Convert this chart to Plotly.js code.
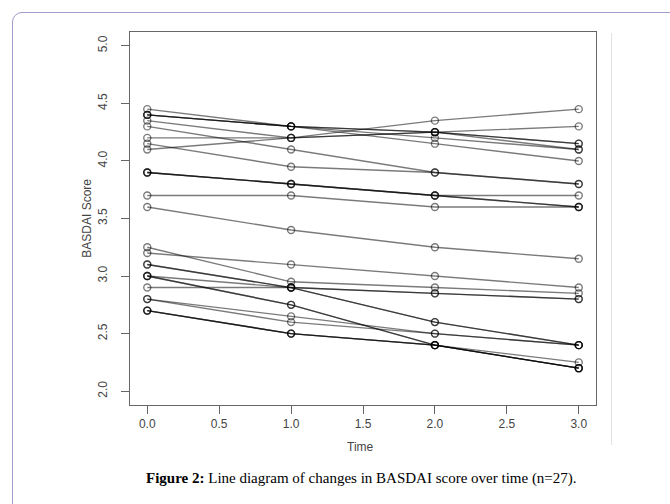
<!DOCTYPE html>
<html>
<head>
<meta charset="utf-8">
<script src="https://cdn.plot.ly/plotly-3.0.1.min.js"></script>
<style>
  html, body { margin: 0; padding: 0; background: #ffffff; width: 670px; height: 504px; overflow: hidden; }
  #frame { position: absolute; left: 12px; top: 12px; width: 720px; height: 540px; border: 1.5px solid #9c9cc6; border-radius: 10px; box-sizing: border-box; }
  #edge { position: absolute; left: 611px; top: 33px; width: 1px; height: 412px; background: #e2e2e2; }
  #chart { position: absolute; left: 0; top: 0; width: 670px; height: 504px; }
</style>
</head>
<body>
<div id="frame"></div>
<div id="edge"></div>
<div id="chart"></div>
<script>
// Time points
const time = [0, 1, 2, 3];
const xTicks = [0, 0.5, 1, 1.5, 2, 2.5, 3];
const xTickText = ["0.0", "0.5", "1.0", "1.5", "2.0", "2.5", "3.0"];
const yTicks = [2, 2.5, 3, 3.5, 4, 4.5, 5];
const yTickText = ["2.0", "2.5", "3.0", "3.5", "4.0", "4.5", "5.0"];

// BASDAI score per patient at each time point
const s01 = [4.45, 4.30, 4.20, 4.10];
const s02 = [4.40, 4.30, 4.15, 4.00];
const s03 = [4.40, 4.30, 4.25, 4.15];
const s04 = [4.35, 4.20, 4.25, 4.30];
const s05 = [4.30, 4.10, 3.90, 3.80];
const s06 = [4.20, 4.20, 4.25, 4.10];
const s07 = [4.15, 3.95, 3.90, 3.80];
const s08 = [4.10, 4.20, 4.35, 4.45];
const s09 = [3.90, 3.80, 3.70, 3.70];
const s10 = [3.90, 3.80, 3.70, 3.60];
const s11 = [3.70, 3.70, 3.60, 3.60];
const s12 = [3.60, 3.40, 3.25, 3.15];
const s13 = [3.25, 2.95, 2.90, 2.85];
const s14 = [3.20, 3.10, 3.00, 2.90];
const s15 = [3.10, 2.90, 2.60, 2.40];
const s16 = [3.10, 2.90, 2.85, 2.80];
const s17 = [3.00, 2.75, 2.40, 2.20];
const s18 = [3.00, 2.90, 2.60, 2.40];
const s19 = [2.90, 2.90, 2.85, 2.80];
const s20 = [2.80, 2.65, 2.50, 2.40];
const s21 = [2.80, 2.60, 2.50, 2.40];
const s22 = [2.70, 2.50, 2.40, 2.25];
const s23 = [2.70, 2.50, 2.40, 2.20];
const s24 = [3.90, 3.80, 3.70, 3.60];
const s25 = [2.70, 2.50, 2.40, 2.20];
const s26 = [4.40, 4.30, 4.25, 4.15];
const s27 = [3.00, 2.75, 2.40, 2.20];

const patients = [s01, s02, s03, s04, s05, s06, s07, s08, s09, s10, s11, s12, s13, s14,
                  s15, s16, s17, s18, s19, s20, s21, s22, s23, s24, s25, s26, s27];

const ink = 'rgba(0,0,0,0.52)';
const traces = patients.map(function (vals) {
  return {
    x: time, y: vals, type: 'scatter', mode: 'lines+markers',
    line: { color: ink, width: 1.4 },
    marker: { symbol: 'circle-open', size: 7, color: ink, line: { color: ink, width: 1.4 } },
    hoverinfo: 'skip', showlegend: false
  };
});

const tickFont = { family: 'Liberation Sans, Arial, sans-serif', size: 12, color: '#444' };

const layout = {
  width: 670, height: 504,
  margin: { l: 130, r: 74, t: 32, b: 99 },
  paper_bgcolor: 'rgba(0,0,0,0)',
  plot_bgcolor: 'rgba(0,0,0,0)',
  showlegend: false,
  xaxis: {
    range: [-0.12, 3.12], tickmode: 'array', tickvals: xTicks, ticktext: xTickText,
    showgrid: false, zeroline: false, showline: true, mirror: true, linecolor: '#666', linewidth: 1,
    ticks: 'outside', ticklen: 8, tickwidth: 1, tickcolor: '#666', tickfont: tickFont
  },
  yaxis: {
    range: [1.88, 5.12], tickmode: 'array', tickvals: yTicks, ticktext: yTickText,
    showgrid: false, zeroline: false, showline: true, mirror: true, linecolor: '#666', linewidth: 1,
    ticks: 'outside', ticklen: 8, tickwidth: 1, tickcolor: '#666', tickfont: tickFont,
    tickangle: -90, ticklabelstandoff: 9
  },
  annotations: [
    { text: 'Time', xref: 'paper', yref: 'paper', x: 0.4957, y: -0.1126,
      xanchor: 'center', yanchor: 'middle', showarrow: false,
      font: { family: 'Liberation Sans, Arial, sans-serif', size: 12, color: '#444' } },
    { text: 'BASDAI Score', xref: 'paper', yref: 'paper', x: -0.094, y: 0.5,
      xanchor: 'center', yanchor: 'middle', showarrow: false, textangle: -90,
      font: { family: 'Liberation Sans, Arial, sans-serif', size: 12, color: '#444' } },
    { text: '<b>Figure 2:</b> Line diagram of changes in BASDAI score over time (n=27).',
      xref: 'paper', yref: 'paper', x: 0.497, y: -0.198,
      xanchor: 'center', yanchor: 'middle', showarrow: false,
      font: { family: 'Liberation Serif, Times New Roman, serif', size: 15, color: '#000' } }
  ]
};

Plotly.newPlot('chart', traces, layout, { staticPlot: true, displayModeBar: false });
</script>
</body>
</html>
